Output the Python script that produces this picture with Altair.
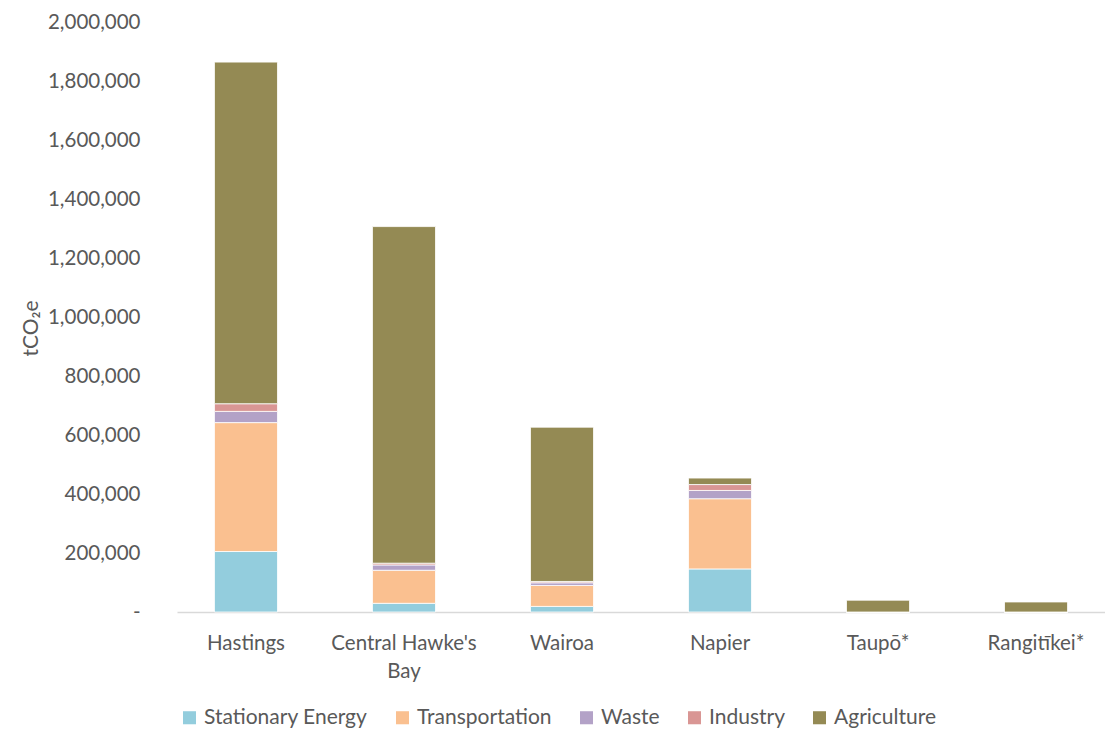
import altair as alt
import pandas as pd

districts = ["Hastings", "Central Hawke's Bay", "Wairoa", "Napier", "Taupō*", "Rangitīkei*"]
sectors = ["Stationary Energy", "Transportation", "Waste", "Industry", "Agriculture"]
colors = ["#93CDDD", "#FAC090", "#B3A2C7", "#D99694", "#948A54"]

stationary = [205000, 29500, 19000, 146000, 0, 0]
transportation = [437000, 112000, 71000, 238000, 0, 0]
waste = [38000, 18000, 9000, 28000, 0, 0]
industry = [26000, 6000, 4500, 20000, 0, 0]
agriculture = [1158000, 1141000, 523000, 22000, 40000, 34000]

series = [stationary, transportation, waste, industry, agriculture]
rows = []
for si, (name, vals) in enumerate(zip(sectors, series)):
    for d, v in zip(districts, vals):
        rows.append({"District": d, "Sector": name, "Value": v, "order": si})
df = pd.DataFrame(rows)

FONT = "Lato"
GREY = "#595959"

chart = alt.Chart(df).mark_bar(stroke="white", strokeWidth=0.8).encode(
    x=alt.X("District:N", sort=districts, title=None,
            scale=alt.Scale(paddingInner=0.601, paddingOuter=0.237),
            axis=alt.Axis(labelAngle=0, ticks=False, domainColor="#D9D9D9", domainWidth=1.5,
                          labelFontSize=20.5, labelColor=GREY, labelFont=FONT, labelPadding=31,
                          labelLineHeight=28, labelBaseline="middle",
                          labelExpr="split(replace(datum.value, \" Bay\", \"|Bay\"), \"|\")")),
    y=alt.Y("Value:Q", stack="zero",
            scale=alt.Scale(domain=[0, 2000000], nice=False),
            axis=alt.Axis(title="tCO₂e", grid=False, domain=False, ticks=False,
                          values=list(range(0, 2000001, 200000)),
                          labelExpr="datum.value == 0 ? '-' : format(datum.value, ',')",
                          labelFontSize=20.5, labelColor=GREY, labelFont=FONT, labelPadding=37,
                          titleFont=FONT, titleFontSize=21, titleColor=GREY, titleFontWeight="normal",
                          titleAngle=-90, titleX=-136, titleY=306, titleAlign="center")),
    color=alt.Color("Sector:N", sort=sectors,
                    scale=alt.Scale(domain=sectors, range=colors),
                    legend=alt.Legend(title=None, orient="none", direction="horizontal",
                                      legendX=2, legendY=685, symbolType="square", symbolSize=170,
                                      symbolStrokeWidth=0, labelFontSize=21, labelFont=FONT,
                                      labelColor=GREY, columnPadding=24, labelOffset=4,
                                      labelLimit=400)),
    order=alt.Order("order:Q", sort="ascending"),
).properties(
    width=928, height=590,
    autosize=alt.AutoSizeParams(type="none"),
    padding={"left": 177, "top": 22, "right": 0, "bottom": 119},
).configure_view(stroke=None)

chart.save("out.html", embed_options={"renderer": "svg", "actions": False})
